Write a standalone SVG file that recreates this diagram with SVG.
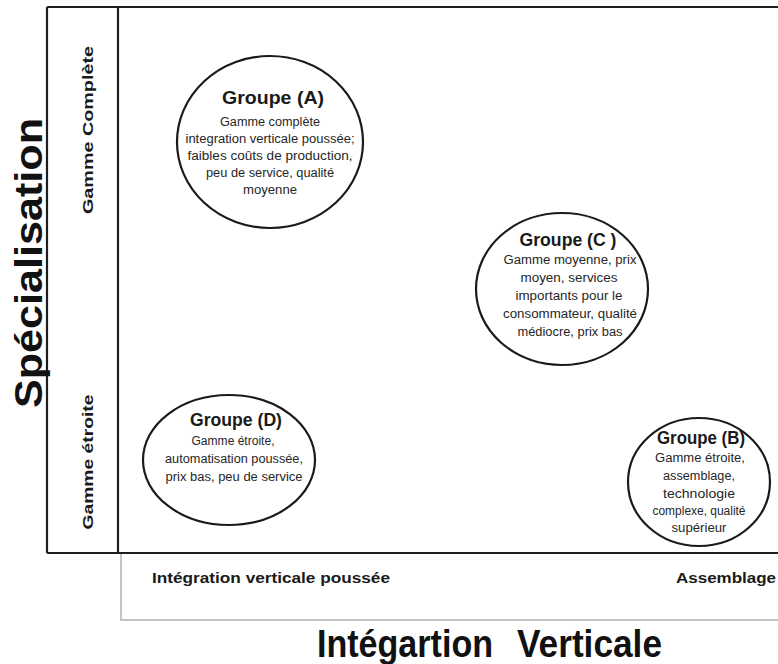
<svg xmlns="http://www.w3.org/2000/svg" width="778" height="664" viewBox="0 0 778 664">
  <style>
    .frame { fill: none; stroke: #1e1e1e; stroke-width: 2.2; }
    .strip { fill: none; stroke: #c4c4c4; stroke-width: 2; }
    .bubble { fill: #ffffff; stroke: #1a1a1a; stroke-width: 2.2; }
    text { font-family: "Liberation Sans", Arial, sans-serif; fill: #1a1a1a; text-anchor: middle; }
    .head { font-size: 18px; font-weight: bold; }
    .body { font-size: 12px; fill: #262626; }
    .axis { font-size: 14px; font-weight: bold; }
    .title { font-size: 38px; font-weight: bold; fill: #111; }
  </style>

  <rect width="778" height="664" fill="#ffffff"/>

  <!-- chart frame -->
  <g id="frame">
    <path class="strip" d="M121 553 V620 H780"/>
    <path class="frame" d="M47 7 H780 M47 553 H780 M47 7 V553 M118 7 V553"/>
  </g>

  <!-- axis labels -->
  <g id="axis-y">
    <text class="title" transform="translate(42 263) rotate(-90)" textLength="290" lengthAdjust="spacingAndGlyphs">Spécialisation</text>
    <text class="axis" transform="translate(93 130) rotate(-90)" textLength="168" lengthAdjust="spacingAndGlyphs">Gamme Complète</text>
    <text class="axis" transform="translate(93 462) rotate(-90)" textLength="135" lengthAdjust="spacingAndGlyphs">Gamme étroite</text>
  </g>
  <g id="axis-x">
    <text class="axis" x="271" y="583" textLength="238" lengthAdjust="spacingAndGlyphs">Intégration verticale poussée</text>
    <text class="axis" x="726" y="583" textLength="100" lengthAdjust="spacingAndGlyphs">Assemblage</text>
    <text class="title" y="657"><tspan x="405" textLength="176" lengthAdjust="spacingAndGlyphs">Intégartion</tspan><tspan x="589.5" textLength="145" lengthAdjust="spacingAndGlyphs">Verticale</tspan></text>
  </g>

  <!-- groups -->
  <g id="groupe-a">
    <ellipse class="bubble" cx="270" cy="142" rx="93" ry="86"/>
    <text class="head" x="273" y="104" textLength="102" lengthAdjust="spacingAndGlyphs">Groupe (A)</text>
    <text class="body" x="270" y="126" textLength="100" lengthAdjust="spacingAndGlyphs">Gamme complète</text>
    <text class="body" x="270" y="143" textLength="169" lengthAdjust="spacingAndGlyphs">integration verticale poussée;</text>
    <text class="body" x="270" y="160" textLength="165" lengthAdjust="spacingAndGlyphs">faibles coûts de production,</text>
    <text class="body" x="270" y="177" textLength="128" lengthAdjust="spacingAndGlyphs">peu de service, qualité</text>
    <text class="body" x="270" y="194" textLength="54" lengthAdjust="spacingAndGlyphs">moyenne</text>
  </g>

  <g id="groupe-c">
    <ellipse class="bubble" cx="562" cy="289" rx="86" ry="76"/>
    <text class="head" x="568" y="246" textLength="97" lengthAdjust="spacingAndGlyphs">Groupe (C )</text>
    <text class="body" x="570" y="264" textLength="133" lengthAdjust="spacingAndGlyphs">Gamme moyenne, prix</text>
    <text class="body" x="569" y="282" textLength="97" lengthAdjust="spacingAndGlyphs">moyen, services</text>
    <text class="body" x="569" y="300" textLength="107" lengthAdjust="spacingAndGlyphs">importants pour le</text>
    <text class="body" x="570" y="318" textLength="134" lengthAdjust="spacingAndGlyphs">consommateur, qualité</text>
    <text class="body" x="570" y="336" textLength="105" lengthAdjust="spacingAndGlyphs">médiocre, prix bas</text>
  </g>

  <g id="groupe-d">
    <ellipse class="bubble" cx="229" cy="460" rx="86" ry="65"/>
    <text class="head" x="236" y="426" textLength="92" lengthAdjust="spacingAndGlyphs">Groupe (D)</text>
    <text class="body" x="233" y="445" textLength="83" lengthAdjust="spacingAndGlyphs">Gamme étroite,</text>
    <text class="body" x="234" y="463" textLength="138" lengthAdjust="spacingAndGlyphs">automatisation poussée,</text>
    <text class="body" x="234" y="481" textLength="137" lengthAdjust="spacingAndGlyphs">prix bas, peu de service</text>
  </g>

  <g id="groupe-b">
    <ellipse class="bubble" cx="699" cy="482" rx="71" ry="64"/>
    <text class="head" x="701" y="444" textLength="88" lengthAdjust="spacingAndGlyphs">Groupe (B)</text>
    <text class="body" x="700" y="462" textLength="90" lengthAdjust="spacingAndGlyphs">Gamme étroite,</text>
    <text class="body" x="699" y="480" textLength="72" lengthAdjust="spacingAndGlyphs">assemblage,</text>
    <text class="body" x="699" y="498" textLength="72" lengthAdjust="spacingAndGlyphs">technologie</text>
    <text class="body" x="699" y="515" textLength="93" lengthAdjust="spacingAndGlyphs">complexe, qualité</text>
    <text class="body" x="699" y="532" textLength="55" lengthAdjust="spacingAndGlyphs">supérieur</text>
  </g>
</svg>
